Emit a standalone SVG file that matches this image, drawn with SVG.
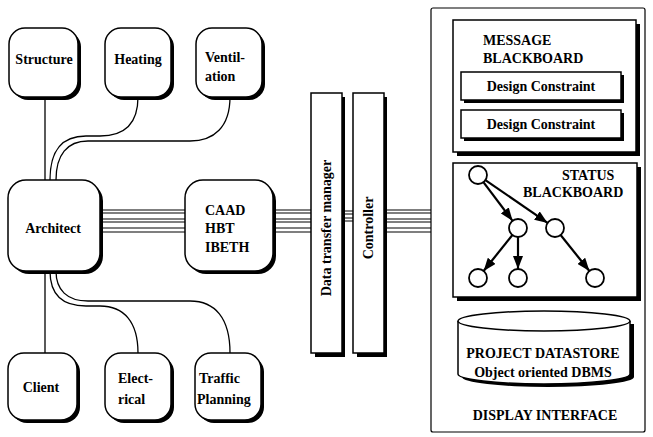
<svg xmlns="http://www.w3.org/2000/svg" width="653" height="437" viewBox="0 0 653 437">
  <style>
    text { font-family: "Liberation Serif", "Times New Roman", serif; font-size: 14px; font-weight: bold; fill: #000; }
    .box { fill: #fff; stroke: #000; stroke-width: 1.5; }
    .shadow { fill: #000; stroke: none; }
    .wire { fill: none; stroke: #000; stroke-width: 1.3; }
    .bus { fill: none; stroke: #000; stroke-width: 1.2; }
    .tree { fill: none; stroke: #000; stroke-width: 2.2; }
    .dot { fill: #fff; stroke: #000; stroke-width: 1.8; }
    .mid { text-anchor: middle; }
  </style>
  <defs>
    <marker id="arrow" markerUnits="userSpaceOnUse" markerWidth="13" markerHeight="10" refX="13" refY="5" orient="auto">
      <path d="M0,0 L13,5 L0,10 z" fill="#000"/>
    </marker>
  </defs>
  <rect width="653" height="437" fill="#fff"/>

  <!-- connectors -->
  <g id="connectors">
    <!-- Structure - Architect - Client -->
    <line class="wire" x1="45" y1="97" x2="45" y2="180" stroke-width="1"/>
    <line class="wire" x1="45" y1="271" x2="45" y2="353" stroke-width="1"/>
    <!-- Heating, Ventilation -->
    <path class="wire" d="M138,97 C138,124 124,136 100,136 L86,136 C62,136 50,150 50,180"/>
    <path class="wire" d="M230,97 C230,127 214,141 190,141 L88,141 C67,141 56,155 56,180"/>
    <!-- Electrical, Traffic Planning -->
    <path class="wire" d="M50,271 C50,294 62,306 86,306 L100,306 C124,306 138,322 138,353"/>
    <path class="wire" d="M56,271 C56,290 67,301 88,301 L190,301 C215,301 230,318 230,353"/>
    <!-- Architect - CAAD bus -->
    <g class="bus">
      <path d="M100,210 H185 M100,213 H185 M100,219 H185 M100,222 H185 M100,228 H185 M100,232 H185"/>
      <!-- CAAD - Data transfer manager -->
      <path d="M273,210 H311 M273,213 H311 M273,219 H311 M273,222 H311 M273,228 H311 M273,232 H311"/>
      <!-- Data transfer manager - Controller -->
      <path d="M342,211 H353 M342,214 H353 M342,218 H353 M342,221 H353"/>
      <!-- Controller - Display interface -->
      <path d="M383,210 H431 M383,213 H431 M383,219 H431 M383,222 H431 M383,228 H431 M383,232 H431"/>
    </g>
  </g>

  <!-- expert nodes -->
  <g id="structure">
    <rect class="shadow" x="12" y="31" width="69" height="69" rx="16"/>
    <rect class="box" x="9" y="28" width="69" height="69" rx="16"/>
    <text class="mid" x="44" y="64">Structure</text>
  </g>
  <g id="heating">
    <rect class="shadow" x="108" y="31" width="66" height="69" rx="16"/>
    <rect class="box" x="105" y="28" width="66" height="69" rx="16"/>
    <text class="mid" x="138" y="64">Heating</text>
  </g>
  <g id="ventilation">
    <rect class="shadow" x="199" y="31" width="66" height="69" rx="16"/>
    <rect class="box" x="196" y="28" width="66" height="69" rx="16"/>
    <text x="205" y="62">Ventil-</text>
    <text x="205" y="81">ation</text>
  </g>
  <g id="architect">
    <rect class="shadow" x="11" y="183" width="92" height="91" rx="18"/>
    <rect class="box" x="8" y="180" width="92" height="91" rx="18"/>
    <text class="mid" x="53" y="233">Architect</text>
  </g>
  <g id="caad">
    <rect class="shadow" x="188" y="183" width="88" height="91" rx="18"/>
    <rect class="box" x="185" y="180" width="88" height="91" rx="18"/>
    <text x="205" y="215">CAAD</text>
    <text x="205" y="233">HBT</text>
    <text x="205" y="252">IBETH</text>
  </g>
  <g id="client">
    <rect class="shadow" x="11" y="356" width="69" height="67" rx="16"/>
    <rect class="box" x="8" y="353" width="69" height="67" rx="16"/>
    <text class="mid" x="41" y="392">Client</text>
  </g>
  <g id="electrical">
    <rect class="shadow" x="108" y="356" width="66" height="67" rx="16"/>
    <rect class="box" x="105" y="353" width="66" height="67" rx="16"/>
    <text x="118" y="383">Elect-</text>
    <text x="118" y="404">rical</text>
  </g>
  <g id="traffic-planning">
    <rect class="shadow" x="198" y="356" width="66" height="67" rx="16"/>
    <rect class="box" x="195" y="353" width="66" height="67" rx="16"/>
    <text x="199" y="383">Traffic</text>
    <text x="197" y="404">Planning</text>
  </g>

  <!-- middleware bars -->
  <g id="data-transfer-manager">
    <rect class="shadow" x="315" y="97" width="30" height="260"/>
    <rect class="box" x="311" y="93" width="31" height="260"/>
    <text class="mid" transform="translate(331,228) rotate(-90)">Data transfer manager</text>
  </g>
  <g id="controller">
    <rect class="shadow" x="357" y="97" width="30" height="260"/>
    <rect class="box" x="353" y="93" width="31" height="260"/>
    <text class="mid" transform="translate(373,228) rotate(-90)">Controller</text>
  </g>

  <!-- display interface -->
  <g id="display-interface">
    <rect x="431" y="8" width="214" height="424" rx="2" fill="#fff" stroke="#000" stroke-width="1.2"/>
    <text class="mid" x="545" y="420">DISPLAY INTERFACE</text>
  </g>
  <g id="message-blackboard">
    <rect class="shadow" x="457" y="24" width="183" height="132"/>
    <rect class="box" x="453" y="20" width="183" height="132"/>
    <text x="483" y="45">MESSAGE</text>
    <text x="483" y="63">BLACKBOARD</text>
  </g>
  <g id="design-constraint-1">
    <rect class="shadow" x="464" y="75" width="160" height="28"/>
    <rect class="box" x="461" y="72" width="160" height="28"/>
    <text class="mid" x="541" y="91">Design Constraint</text>
  </g>
  <g id="design-constraint-2">
    <rect class="shadow" x="464" y="113" width="160" height="28"/>
    <rect class="box" x="461" y="110" width="160" height="28"/>
    <text class="mid" x="541" y="129">Design Constraint</text>
  </g>
  <g id="status-blackboard">
    <rect class="shadow" x="457" y="167" width="184" height="134"/>
    <rect class="box" x="453" y="163" width="184" height="134"/>
    <text x="562" y="180">STATUS</text>
    <text x="523" y="197">BLACKBOARD</text>
    <g class="tree">
      <line x1="483.4" y1="182.2" x2="512.6" y2="220.8" marker-end="url(#arrow)"/>
      <line x1="485.4" y1="180.1" x2="547.6" y2="222.9" marker-end="url(#arrow)"/>
      <line x1="512.4" y1="235" x2="483.6" y2="271" marker-end="url(#arrow)"/>
      <line x1="518" y1="237" x2="518" y2="269" marker-end="url(#arrow)"/>
      <line x1="560.6" y1="235" x2="589.4" y2="271" marker-end="url(#arrow)"/>
    </g>
    <circle class="dot" cx="478" cy="175" r="9"/>
    <circle class="dot" cx="518" cy="228" r="9"/>
    <circle class="dot" cx="555" cy="228" r="9"/>
    <circle class="dot" cx="478" cy="278" r="9"/>
    <circle class="dot" cx="518" cy="278" r="9"/>
    <circle class="dot" cx="595" cy="278" r="9"/>
  </g>
  <g id="project-datastore">
    <path class="shadow" d="M462,324 V377 A86,10 0 0 0 634,377 V324 Z"/>
    <path class="box" d="M458,321 V374 A86,10 0 0 0 630,374 V321"/>
    <ellipse class="box" cx="544" cy="321" rx="86" ry="10"/>
    <text class="mid" x="543" y="358">PROJECT DATASTORE</text>
    <text class="mid" x="543" y="377">Object oriented DBMS</text>
  </g>
</svg>
